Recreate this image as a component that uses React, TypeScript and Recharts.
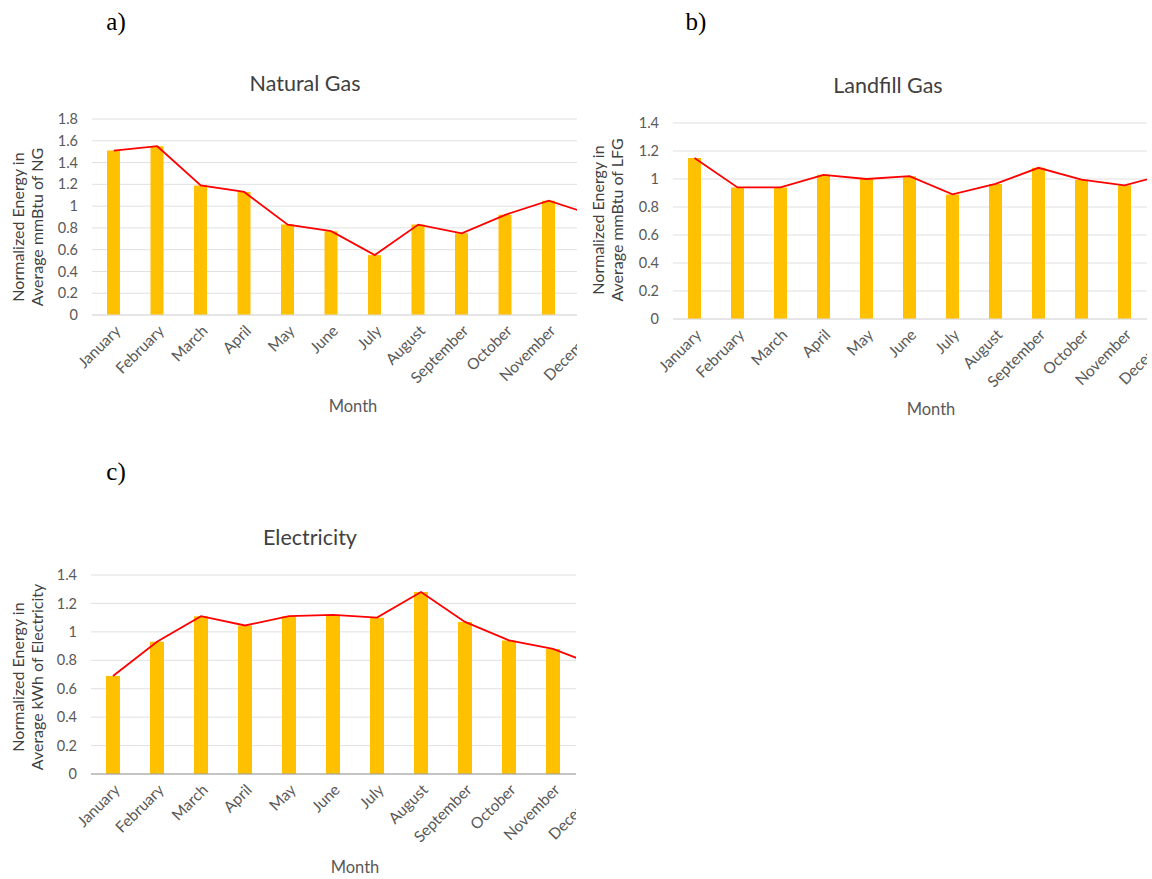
import React from "react";
import {
  Bar,
  CartesianGrid,
  ComposedChart,
  Line,
  XAxis,
  YAxis,
} from "recharts";

const months = [
  "January",
  "February",
  "March",
  "April",
  "May",
  "June",
  "July",
  "August",
  "September",
  "October",
  "November",
  "December",
];

// normalized energy
const naturalGas = [1.51, 1.55, 1.19, 1.13, 0.83, 0.77, 0.55, 0.83, 0.75, 0.92, 1.05, 0.92];
const landfillGas = [1.15, 0.94, 0.94, 1.03, 1.0, 1.02, 0.89, 0.965, 1.08, 0.995, 0.955, 1.035];
const electricity = [0.69, 0.93, 1.11, 1.045, 1.11, 1.12, 1.1, 1.28, 1.07, 0.94, 0.88, 0.76];

const ngTicks = [0, 0.2, 0.4, 0.6, 0.8, 1, 1.2, 1.4, 1.6, 1.8];
const lfgTicks = [0, 0.2, 0.4, 0.6, 0.8, 1, 1.2, 1.4];
const elecTicks = [0, 0.2, 0.4, 0.6, 0.8, 1, 1.2, 1.4];

const FONT = "Lato, 'Open Sans', sans-serif";
const GREY = "#595959";

const toRows = (values: number[]) =>
  months.map((month, i) => ({ month, value: values[i] }));

function MonthTick(props: any) {
  const { x, y, payload } = props;
  return (
    <g transform={`translate(${x + 4},${y + 13}) rotate(-45)`}>
      <text
        x={0}
        y={0}
        dy="0.35em"
        textAnchor="end"
        fontSize={15.5}
        fontFamily={FONT}
        fill={GREY}
      >
        {payload.value}
      </text>
    </g>
  );
}

type PanelProps = {
  values: number[];
  ticks: number[];
  left: number;
  top: number;
  clipWidth: number;
  chartWidth: number;
  axisWidth: number;
  marginTop: number;
  plotHeight: number;
  barSize: number;
  baseStroke: string;
};

function Panel(p: PanelProps) {
  const height = 420;
  const xAxisHeight = 100;
  return (
    <div
      style={{
        position: "absolute",
        left: p.left,
        top: p.top,
        width: p.clipWidth,
        height,
        overflow: "hidden",
      }}
    >
      <ComposedChart
        width={p.chartWidth}
        height={height}
        data={toRows(p.values)}
        margin={{
          top: p.marginTop,
          right: 0,
          left: 0,
          bottom: height - p.marginTop - p.plotHeight - xAxisHeight,
        }}
      >
        <CartesianGrid vertical={false} stroke="#e0e0e0" />
        <XAxis
          dataKey="month"
          interval={0}
          height={xAxisHeight}
          tickLine={false}
          tickSize={0}
          tickMargin={0}
          axisLine={{ stroke: p.baseStroke }}
          tick={<MonthTick />}
        />
        <YAxis
          width={p.axisWidth}
          domain={[0, p.ticks[p.ticks.length - 1]]}
          ticks={p.ticks}
          interval={0}
          axisLine={false}
          tickLine={false}
          tickSize={12}
          tick={{ fontSize: 14.5, fontFamily: FONT, fill: GREY }}
        />
        <Bar
          dataKey="value"
          fill="#FFC000"
          barSize={p.barSize}
          isAnimationActive={false}
        />
        <Line
          type="linear"
          dataKey="value"
          stroke="#FF0000"
          strokeWidth={1.8}
          dot={false}
          isAnimationActive={false}
        />
      </ComposedChart>
    </div>
  );
}

function Text({
  x,
  y,
  children,
  size = 14,
  rotate = 0,
  font = FONT,
  color = GREY,
  lineHeight = 1.2,
}: any) {
  return (
    <div
      style={{
        position: "absolute",
        left: x,
        top: y,
        transform: `translate(-50%,-50%) rotate(${rotate}deg)`,
        fontSize: size,
        fontFamily: font,
        color,
        whiteSpace: "nowrap",
        textAlign: "center",
        lineHeight,
      }}
    >
      {children}
    </div>
  );
}

const SERIF = "'Liberation Serif', 'Times New Roman', serif";
const TITLE = "#404040";

export default function App() {
  return (
    <div
      style={{
        position: "absolute",
        left: 0,
        top: 0,
        width: 1152,
        height: 879,
        background: "#fff",
        overflow: "hidden",
      }}
    >
      <Text x={116} y={22} size={25} font={SERIF} color="#000">a)</Text>
      <Text x={696} y={22} size={25} font={SERIF} color="#000">b)</Text>
      <Text x={116} y={472} size={25} font={SERIF} color="#000">c)</Text>

      <Panel
        values={naturalGas}
        ticks={ngTicks}
        left={0}
        top={0}
        clipWidth={577}
        chartWidth={614}
        axisWidth={92}
        marginTop={119}
        plotHeight={196}
        barSize={13}
        baseStroke="#dcdcdc"
      />
      <Panel
        values={landfillGas}
        ticks={lfgTicks}
        left={580}
        top={0}
        clipWidth={567}
        chartWidth={609}
        axisWidth={93}
        marginTop={123}
        plotHeight={196}
        barSize={13}
        baseStroke="#dcdcdc"
      />
      <Panel
        values={electricity}
        ticks={elecTicks}
        left={0}
        top={450}
        clipWidth={576}
        chartWidth={619}
        axisWidth={91}
        marginTop={125}
        plotHeight={199}
        barSize={14}
        baseStroke="#9a9a9a"
      />

      <Text x={305} y={84} size={21.5} color={TITLE}>Natural Gas</Text>
      <Text x={888} y={86} size={21.5} color={TITLE}>Landfill Gas</Text>
      <Text x={310} y={538} size={21.5} color={TITLE}>Electricity</Text>

      <Text x={27} y={227} rotate={-90} size={16} lineHeight="19px" color={TITLE}>
        Normalized Energy in
        <br />
        Average mmBtu of NG
      </Text>
      <Text x={607} y={220} rotate={-90} size={16} lineHeight="19px" color={TITLE}>
        Normalized Energy in
        <br />
        Average mmBtu of LFG
      </Text>
      <Text x={27} y={677} rotate={-90} size={16} lineHeight="19px" color={TITLE}>
        Normalized Energy in
        <br />
        Average kWh of Electricity
      </Text>

      <Text x={353} y={407} size={16.5}>Month</Text>
      <Text x={931} y={410} size={16.5}>Month</Text>
      <Text x={355} y={868} size={16.5}>Month</Text>
    </div>
  );
}
